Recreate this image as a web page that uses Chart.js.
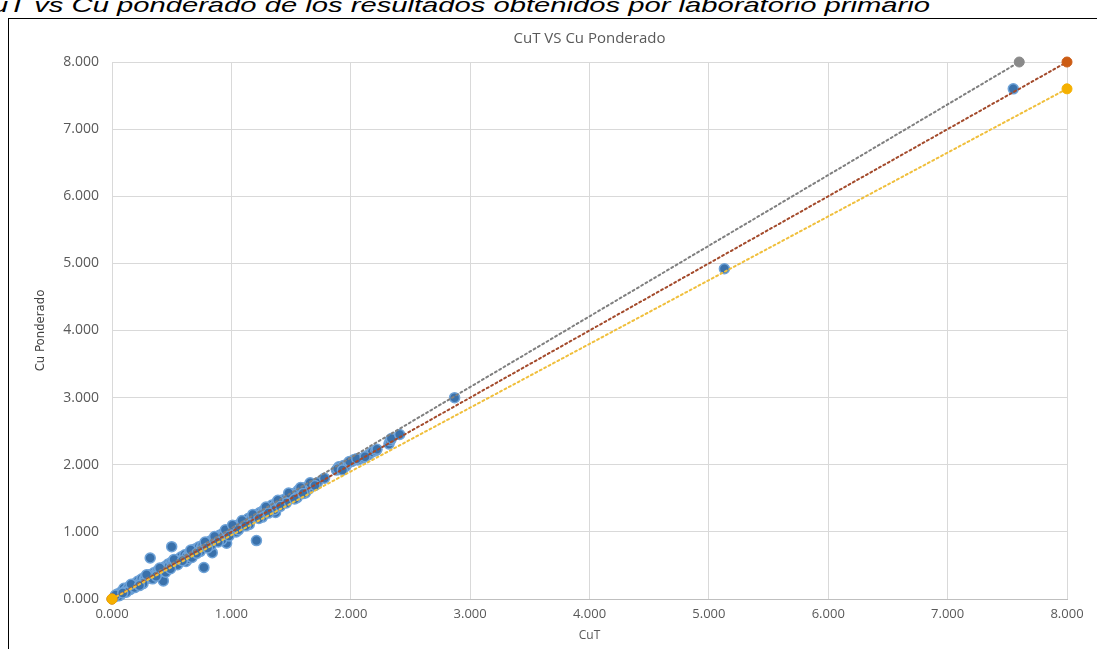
<!DOCTYPE html>
<html lang="es">
<head>
<meta charset="utf-8">
<title>CuT VS Cu Ponderado</title>
<script src="https://cdn.jsdelivr.net/npm/chart.js@4/dist/chart.umd.min.js"></script>
<style>
  html, body { margin: 0; padding: 0; }
  body { width: 1097px; height: 649px; overflow: hidden; background: #fff; position: relative; }
  #caption {
    position: absolute; left: -29px; top: -7px;
    font: italic 21px "Liberation Sans", Arial, sans-serif; color: #000;
    white-space: nowrap; transform: scaleX(1.39); transform-origin: 0 0;
  }
  #frame {
    position: absolute; left: 8px; top: 18px; width: 1200px; height: 700px;
    border: 1.5px solid #000; box-sizing: border-box;
  }
  #wrap { position: absolute; left: 9px; top: 19px; width: 1088px; height: 630px; }
</style>
</head>
<body>
<div id="caption">CuT vs Cu ponderado de los resultados obtenidos por laboratorio primario</div>
<div id="frame"></div>
<div id="wrap"><canvas id="c" width="1088" height="630"></canvas></div>
<script>
// CuT (%) for each sample
const cuT = [
  0.02, 0.04, 0.05, 0.07, 0.08, 0.10, 0.11, 0.13, 0.14, 0.15,
  0.17, 0.18, 0.20, 0.21, 0.22, 0.24, 0.25, 0.27, 0.28, 0.30,
  0.32, 0.31, 0.33, 0.35, 0.36, 0.38, 0.39, 0.41, 0.42, 0.43,
  0.44, 0.46, 0.47, 0.48, 0.50, 0.50, 0.51, 0.53, 0.54, 0.56,
  0.57, 0.58, 0.60, 0.61, 0.62, 0.63, 0.65, 0.66, 0.68, 0.69,
  0.70, 0.72, 0.73, 0.75, 0.76, 0.77, 0.78, 0.79, 0.81, 0.82,
  0.84, 0.84, 0.85, 0.87, 0.88, 0.90, 0.91, 0.93, 0.94, 0.96,
  0.96, 0.97, 0.99, 1.00, 1.02, 1.03, 1.05, 1.07, 1.08, 1.10,
  1.11, 1.13, 1.14, 1.16, 1.17, 1.19, 1.21, 1.20, 1.22, 1.24,
  1.25, 1.27, 1.28, 1.30, 1.32, 1.34, 1.35, 1.37, 1.38, 1.40,
  1.42, 1.43, 1.45, 1.47, 1.49, 1.50, 1.52, 1.54, 1.56, 1.57,
  1.59, 1.61, 1.63, 1.65, 1.67, 1.69, 1.72, 1.78, 1.88, 1.90,
  1.92, 1.94, 1.96, 1.98, 2.01, 2.03, 2.06, 2.10, 2.15, 2.18,
  2.21, 2.32, 2.33, 2.34, 2.41, 2.87, 5.13, 7.55,
  0.06, 0.12, 0.19, 0.26, 0.34, 0.45, 0.55, 0.64, 0.67, 0.74,
  0.83, 0.92, 1.04, 1.15, 1.26, 1.36, 1.46, 1.55, 1.62,
  0.03, 0.09, 0.16, 0.23, 0.29, 0.37, 0.40, 0.49, 0.52, 0.59,
  0.66, 0.71, 0.78, 0.80, 0.86, 0.89, 0.95, 0.98, 1.01, 1.06,
  1.09, 1.12, 1.18, 1.23, 1.29, 1.31, 1.39, 1.41, 1.48, 1.53,
  1.58, 1.60, 1.66, 1.70, 1.89, 1.93, 1.99, 2.05, 2.12, 2.22
];
// Weighted Cu (%) for the same samples
const cuPonderado = [
  0.03, 0.05, 0.08, 0.06, 0.11, 0.16, 0.12, 0.15, 0.18, 0.14,
  0.20, 0.19, 0.24, 0.22, 0.27, 0.26, 0.30, 0.29, 0.33, 0.31,
  0.61, 0.36, 0.35, 0.39, 0.37, 0.42, 0.40, 0.45, 0.41, 0.27,
  0.48, 0.47, 0.52, 0.50, 0.78, 0.55, 0.53, 0.58, 0.56, 0.60,
  0.58, 0.63, 0.61, 0.66, 0.56, 0.64, 0.69, 0.68, 0.73, 0.70,
  0.75, 0.74, 0.78, 0.77, 0.80, 0.47, 0.79, 0.84, 0.83, 0.86,
  0.69, 0.88, 0.86, 0.91, 0.90, 0.95, 0.93, 0.98, 0.97, 0.83,
  1.01, 0.99, 1.04, 1.02, 1.09, 1.05, 1.10, 1.08, 1.13, 1.12,
  1.16, 1.15, 1.20, 1.18, 1.22, 1.21, 0.87, 1.25, 1.24, 1.29,
  1.27, 1.32, 1.30, 1.34, 1.33, 1.40, 1.37, 1.29, 1.44, 1.42,
  1.47, 1.45, 1.49, 1.48, 1.54, 1.52, 1.57, 1.55, 1.62, 1.60,
  1.65, 1.63, 1.67, 1.64, 1.71, 1.70, 1.73, 1.80, 1.92, 1.97,
  1.95, 1.99, 1.98, 2.03, 2.05, 2.08, 2.07, 2.10, 2.15, 2.19,
  2.21, 2.31, 2.36, 2.39, 2.45, 3.00, 4.92, 7.60,
  0.05, 0.10, 0.17, 0.23, 0.30, 0.40, 0.51, 0.60, 0.62, 0.71,
  0.80, 0.88, 1.00, 1.11, 1.22, 1.33, 1.43, 1.51, 1.58,
  0.06, 0.09, 0.22, 0.20, 0.36, 0.34, 0.46, 0.45, 0.59, 0.57,
  0.73, 0.68, 0.85, 0.76, 0.93, 0.85, 1.03, 0.94, 1.10, 1.03,
  1.17, 1.09, 1.26, 1.20, 1.37, 1.28, 1.47, 1.38, 1.58, 1.49,
  1.66, 1.57, 1.73, 1.69, 1.94, 1.92, 2.05, 2.09, 2.12, 2.23
];

// Reference lines: upper limit, identity and lower limit
const upperX = [0, 7.6], upperY = [0, 8.0];
const idX = [0, 8.0], idY = [0, 8.0];
const lowerX = [0, 8.0], lowerY = [0, 7.6];

const xTickLabels = ['0.000', '1.000', '2.000', '3.000', '4.000', '5.000', '6.000', '7.000', '8.000'];
const yTickLabels = ['0.000', '1.000', '2.000', '3.000', '4.000', '5.000', '6.000', '7.000', '8.000'];

const toPts = (xs, ys) => xs.map((x, i) => ({ x: x, y: ys[i] }));

const gridColor = '#d9d9d9';

const lineDs = (xs, ys, lineColor, pointColor, order) => ({
  data: toPts(xs, ys),
  showLine: true,
  clip: false,
  borderColor: lineColor,
  borderWidth: 2,
  borderDash: [2, 3],
  borderCapStyle: 'round',
  pointRadius: 5,
  pointBackgroundColor: pointColor,
  pointBorderColor: pointColor,
  pointBorderWidth: 1,
  order: order
});

new Chart(document.getElementById('c'), {
  type: 'scatter',
  data: {
    datasets: [
      lineDs(lowerX, lowerY, '#f0bf3c', '#f5b000', -1),
      lineDs(idX, idY, '#a34a2b', '#cc5c14', 0),
      lineDs(upperX, upperY, '#7f7f7f', '#8a8a8a', 0),
      {
        data: toPts(cuT, cuPonderado),
        clip: false,
        pointRadius: 5,
        pointBackgroundColor: '#3a71ab',
        pointBorderColor: '#6fa3d8',
        pointBorderWidth: 1.5,
        order: 2
      }
    ]
  },
  options: {
    responsive: false,
    animation: false,
    events: [],
    layout: { padding: { left: 0, right: 30, top: 0, bottom: 0 } },
    plugins: {
      legend: { display: false },
      tooltip: { enabled: false },
      title: {
        display: true,
        fullSize: false,
        text: 'CuT VS Cu Ponderado',
        color: '#595959',
        font: { family: "'Open Sans', sans-serif", size: 15, weight: 'normal' },
        padding: { top: 11, bottom: 14 }
      }
    },
    scales: {
      x: {
        type: 'linear',
        min: 0, max: 8,
        afterFit: (s) => { s.height = 50; },
        ticks: {
          stepSize: 1,
          color: '#595959',
          font: { family: "'Open Sans', 'DejaVu Sans', sans-serif", size: 13 },
          padding: 7,
          maxRotation: 0,
          callback: (v) => xTickLabels[Math.round(v)]
        },
        grid: { color: gridColor, lineWidth: 1, drawTicks: false },
        border: { color: '#bfbfbf', width: 1 },
        title: {
          display: true,
          text: 'CuT',
          color: '#595959',
          font: { family: "'Open Sans', sans-serif", size: 12 },
          padding: { top: 0, bottom: 6 }
        }
      },
      y: {
        type: 'linear',
        min: 0, max: 8,
        afterFit: (s) => { s.width = 103; },
        ticks: {
          stepSize: 1,
          color: '#595959',
          font: { family: "'Open Sans', 'DejaVu Sans', sans-serif", size: 14 },
          padding: 13,
          callback: (v) => yTickLabels[Math.round(v)]
        },
        grid: { color: gridColor, lineWidth: 1, drawTicks: false },
        border: { color: gridColor, width: 1 },
        title: {
          display: true,
          text: 'Cu Ponderado',
          color: '#404040',
          font: { family: "'Liberation Sans Narrow', 'DejaVu Sans Condensed', sans-serif", size: 13 },
          padding: { top: 24, bottom: 0 }
        }
      }
    }
  }
});
</script>
</body>
</html>
